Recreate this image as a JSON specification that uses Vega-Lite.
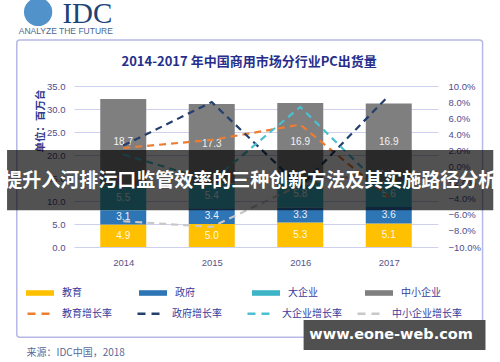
{
  "$schema": "https://vega.github.io/schema/vega-lite/v6.json",
  "width": 364,
  "height": 161,
  "autosize": {"type": "none"},
  "padding": {"left": 74, "top": 86, "right": 62, "bottom": 115},
  "background": "white",
  "config": {"font": "Liberation Sans, Noto Sans CJK SC", "view": {"stroke": null}},
  "datasets": {
    "bars": [
      {"year": 2014, "cat": "教育", "ord": 1, "val": 4.9},
      {"year": 2014, "cat": "政府", "ord": 2, "val": 3.1},
      {"year": 2014, "cat": "大企业", "ord": 3, "val": 5.5},
      {"year": 2014, "cat": "中小企业", "ord": 4, "val": 18.7},
      {"year": 2015, "cat": "教育", "ord": 1, "val": 5.0},
      {"year": 2015, "cat": "政府", "ord": 2, "val": 3.4},
      {"year": 2015, "cat": "大企业", "ord": 3, "val": 5.4},
      {"year": 2015, "cat": "中小企业", "ord": 4, "val": 17.3},
      {"year": 2016, "cat": "教育", "ord": 1, "val": 5.3},
      {"year": 2016, "cat": "政府", "ord": 2, "val": 3.3},
      {"year": 2016, "cat": "大企业", "ord": 3, "val": 5.8},
      {"year": 2016, "cat": "中小企业", "ord": 4, "val": 16.9},
      {"year": 2017, "cat": "教育", "ord": 1, "val": 5.1},
      {"year": 2017, "cat": "政府", "ord": 2, "val": 3.6},
      {"year": 2017, "cat": "大企业", "ord": 3, "val": 5.6},
      {"year": 2017, "cat": "中小企业", "ord": 4, "val": 16.9}
    ],
    "lines": [
      {"year": 2014, "series": "教育增长率", "g": 2.3},
      {"year": 2015, "series": "教育增长率", "g": 3.3},
      {"year": 2016, "series": "教育增长率", "g": 5.2},
      {"year": 2017, "series": "教育增长率", "g": -3.8},
      {"year": 2014, "series": "政府增长率", "g": 2.6},
      {"year": 2015, "series": "政府增长率", "g": 8.0},
      {"year": 2016, "series": "政府增长率", "g": -2.5},
      {"year": 2017, "series": "政府增长率", "g": 8.8},
      {"year": 2014, "series": "大企业增长率", "g": 1.5},
      {"year": 2015, "series": "大企业增长率", "g": -1.8},
      {"year": 2016, "series": "大企业增长率", "g": 7.4},
      {"year": 2017, "series": "大企业增长率", "g": -3.4},
      {"year": 2014, "series": "中小企业增长率", "g": -6.8},
      {"year": 2015, "series": "中小企业增长率", "g": -7.5},
      {"year": 2016, "series": "中小企业增长率", "g": -2.3},
      {"year": 2017, "series": "中小企业增长率", "g": -0.4}
    ]
  },
  "layer": [
    {
      "data": {"name": "bars"},
      "layer": [
        {
          "mark": {"type": "bar", "width": 46},
          "encoding": {
            "x": {"field": "year", "type": "quantitative", "title": null, "scale": {"domain": [2013.5, 2017.5], "nice": false, "zero": false},
              "axis": {"values": [2014, 2015, 2016, 2017], "format": "d", "grid": false, "domain": false, "ticks": false, "labelPadding": 10, "labelFontSize": 9.5, "labelColor": "#55558a", "title": null}},
            "y": {"field": "val", "type": "quantitative", "stack": "zero", "title": null, "scale": {"domain": [0, 35], "nice": false},
              "axis": {"values": [0, 5, 10, 15, 20, 25, 30, 35], "format": ".1f", "labelOverlap": false, "grid": true, "gridColor": "#cfcfee", "domain": false, "ticks": false, "labelPadding": 9, "labelFontSize": 9.5, "labelColor": "#4d4d8f", "title": null}},
            "fill": {"field": "cat", "type": "nominal",
              "scale": {"domain": ["教育", "政府", "大企业", "中小企业"], "range": ["#FFC000", "#2E75B6", "#3DB5C6", "#7F7F7F"]},
              "legend": {"orient": "none", "legendX": -48, "legendY": 193, "direction": "horizontal", "columns": 4, "gridAlign": "all", "columnPadding": 37, "title": null,
                "symbolType": "M-1,-0.2H1V0.2H-1Z", "symbolSize": 784, "symbolStrokeWidth": 0, "labelOffset": 8, "labelFont": "Noto Sans CJK SC", "labelFontSize": 10, "labelColor": "#3a3a9a"}},
            "order": {"field": "ord", "type": "quantitative"}
          }
        },
        {
          "transform": [
            {"stack": "val", "groupby": ["year"], "sort": [{"field": "ord", "order": "ascending"}], "as": ["v0", "v1"]},
            {"fold": ["v0", "v1"], "as": ["k", "v"]},
            {"aggregate": [{"op": "mean", "field": "v", "as": "mid"}], "groupby": ["year", "cat", "val"]}
          ],
          "mark": {"type": "text", "fontSize": 10, "fill": "#ffffff", "opacity": 0.9, "baseline": "middle", "align": "center"},
          "encoding": {
            "x": {"field": "year", "type": "quantitative", "title": null, "scale": {"domain": [2013.5, 2017.5], "nice": false, "zero": false},
              "axis": {"values": [2014, 2015, 2016, 2017], "format": "d", "grid": false, "domain": false, "ticks": false, "labelPadding": 10, "labelFontSize": 9.5, "labelColor": "#55558a", "title": null}},
            "y": {"field": "mid", "type": "quantitative", "title": null, "scale": {"domain": [0, 35], "nice": false},
              "axis": {"values": [0, 5, 10, 15, 20, 25, 30, 35], "format": ".1f", "labelOverlap": false, "grid": true, "gridColor": "#cfcfee", "domain": false, "ticks": false, "labelPadding": 9, "labelFontSize": 9.5, "labelColor": "#4d4d8f", "title": null}},
            "text": {"field": "val", "type": "quantitative", "format": ".1f"}
          }
        }
      ]
    },
    {
      "data": {"name": "lines"},
      "mark": {"type": "line", "strokeDash": [7, 5], "strokeWidth": 2.2},
      "encoding": {
        "x": {"field": "year", "type": "quantitative", "title": null, "scale": {"domain": [2013.5, 2017.5], "nice": false, "zero": false}},
        "y": {"field": "g", "type": "quantitative", "title": null, "scale": {"domain": [-10, 10], "nice": false},
          "axis": {"orient": "right", "values": [-10, -8, -6, -4, -2, 0, 2, 4, 6, 8, 10], "labelExpr": "format(datum.value,'.1f')+'%'", "labelOverlap": false, "grid": false, "domain": false, "ticks": false, "labelPadding": 10, "labelFontSize": 9.5, "labelColor": "#4d4d8f", "title": null}},
        "stroke": {"field": "series", "type": "nominal",
          "scale": {"domain": ["教育增长率", "政府增长率", "大企业增长率", "中小企业增长率"], "range": ["#ED7D31", "#243F6E", "#4BC0D0", "#C8C8C8"]},
          "legend": {"orient": "none", "legendX": -48, "legendY": 212, "direction": "horizontal", "columns": 4, "gridAlign": "all", "columnPadding": 0, "title": null,
            "symbolType": "stroke", "symbolSize": 784, "symbolStrokeWidth": 2.5, "symbolDash": [8, 6], "labelOffset": 5, "labelFont": "Noto Sans CJK SC", "labelFontSize": 10, "labelColor": "#3a3a9a"}}
      }
    },
    {
      "data": {"values": [{}]},
      "layer": [
        {
          "mark": {"type": "rect", "fillOpacity": 0, "stroke": "#b8b8e6", "strokeWidth": 1.5, "cornerRadius": 3},
          "encoding": {
            "x": {"datum": 2012.797, "type": "quantitative", "title": null, "scale": {"domain": [2013.5, 2017.5], "nice": false, "zero": false}},
            "x2": {"datum": 2018.06},
            "y": {"datum": 45.0, "type": "quantitative", "title": null, "scale": {"domain": [0, 35], "nice": false}, "axis": null},
            "y2": {"datum": -19.6}
          }
        },
        {
          "mark": {"type": "text", "text": "2014-2017 年中国商用市场分行业PC出货量", "font": "Noto Sans CJK SC", "fontSize": 13, "fontWeight": "bold", "fill": "#262e8c", "align": "center", "baseline": "middle"},
          "encoding": {
            "x": {"datum": 2015.423, "type": "quantitative", "title": null, "scale": {"domain": [2013.5, 2017.5], "nice": false, "zero": false}},
            "y": {"datum": 40.22, "type": "quantitative", "title": null, "scale": {"domain": [0, 35], "nice": false}, "axis": null}
          }
        },
        {
          "mark": {"type": "text", "text": "单位：百万台", "font": "Noto Sans CJK SC", "fontSize": 10.5, "fontWeight": "bold", "fill": "#2f3a8f", "align": "center", "baseline": "middle", "angle": 270},
          "encoding": {
            "x": {"datum": 2013.071, "type": "quantitative", "title": null, "scale": {"domain": [2013.5, 2017.5], "nice": false, "zero": false}},
            "y": {"datum": 27.39, "type": "quantitative", "title": null, "scale": {"domain": [0, 35], "nice": false}, "axis": null}
          }
        },
        {
          "mark": {"type": "text", "text": "来源：IDC中国，2018", "font": "Noto Sans CJK SC", "fontSize": 10, "fill": "#5a6a9a", "align": "left", "baseline": "middle"},
          "encoding": {
            "x": {"datum": 2012.907, "type": "quantitative", "title": null, "scale": {"domain": [2013.5, 2017.5], "nice": false, "zero": false}},
            "y": {"datum": -23.04, "type": "quantitative", "title": null, "scale": {"domain": [0, 35], "nice": false}, "axis": null}
          }
        },
        {
          "mark": {"type": "rect", "fill": "#000000", "opacity": 0.68},
          "encoding": {
            "x": {"datum": 2012.687, "type": "quantitative", "title": null, "scale": {"domain": [2013.5, 2017.5], "nice": false, "zero": false}},
            "x2": {"datum": 2018.181},
            "y": {"datum": 21.1, "type": "quantitative", "title": null, "scale": {"domain": [0, 35], "nice": false}, "axis": null},
            "y2": {"datum": 8.0}
          }
        },
        {
          "mark": {"type": "text", "text": "提升入河排污口监管效率的三种创新方法及其实施路径分析", "font": "Noto Sans CJK SC", "fontSize": 19, "fontWeight": "bold", "fill": "#ffffff", "align": "center", "baseline": "middle"},
          "encoding": {
            "x": {"datum": 2015.434, "type": "quantitative", "title": null, "scale": {"domain": [2013.5, 2017.5], "nice": false, "zero": false}},
            "y": {"datum": 14.35, "type": "quantitative", "title": null, "scale": {"domain": [0, 35], "nice": false}, "axis": null}
          }
        },
        {
          "mark": {"type": "rect", "fill": "#505050"},
          "encoding": {
            "x": {"datum": 2016.038, "type": "quantitative", "title": null, "scale": {"domain": [2013.5, 2017.5], "nice": false, "zero": false}},
            "x2": {"datum": 2018.093},
            "y": {"datum": -15.87, "type": "quantitative", "title": null, "scale": {"domain": [0, 35], "nice": false}, "axis": null},
            "y2": {"datum": -22.39}
          }
        },
        {
          "mark": {"type": "text", "text": "www.eone-web.com", "font": "DejaVu Sans", "fontSize": 14.5, "fontWeight": "bold", "fill": "#ffffff", "align": "center", "baseline": "middle"},
          "encoding": {
            "x": {"datum": 2017.027, "type": "quantitative", "title": null, "scale": {"domain": [2013.5, 2017.5], "nice": false, "zero": false}},
            "y": {"datum": -19.13, "type": "quantitative", "title": null, "scale": {"domain": [0, 35], "nice": false}, "axis": null}
          }
        },
        {
          "mark": {"type": "point", "shape": "circle", "filled": true, "fill": "#3f86c4", "size": 800, "opacity": 0.9},
          "encoding": {
            "x": {"datum": 2013.038, "type": "quantitative", "title": null, "scale": {"domain": [2013.5, 2017.5], "nice": false, "zero": false}},
            "y": {"datum": 51.1, "type": "quantitative", "title": null, "scale": {"domain": [0, 35], "nice": false}, "axis": null}
          }
        },
        {
          "mark": {"type": "text", "text": "IDC", "font": "Liberation Serif", "fontSize": 29, "fill": "#1d4477", "align": "left", "baseline": "alphabetic"},
          "encoding": {
            "x": {"datum": 2013.313, "type": "quantitative", "title": null, "scale": {"domain": [2013.5, 2017.5], "nice": false, "zero": false}},
            "y": {"datum": 48.7, "type": "quantitative", "title": null, "scale": {"domain": [0, 35], "nice": false}, "axis": null}
          }
        },
        {
          "mark": {"type": "text", "text": "ANALYZE THE FUTURE", "fontSize": 8.5, "fill": "#49698e", "align": "left", "baseline": "alphabetic"},
          "encoding": {
            "x": {"datum": 2012.819, "type": "quantitative", "title": null, "scale": {"domain": [2013.5, 2017.5], "nice": false, "zero": false}},
            "y": {"datum": 46.3, "type": "quantitative", "title": null, "scale": {"domain": [0, 35], "nice": false}, "axis": null}
          }
        }
      ]
    }
  ],
  "resolve": {"scale": {"y": "independent"}}
}
